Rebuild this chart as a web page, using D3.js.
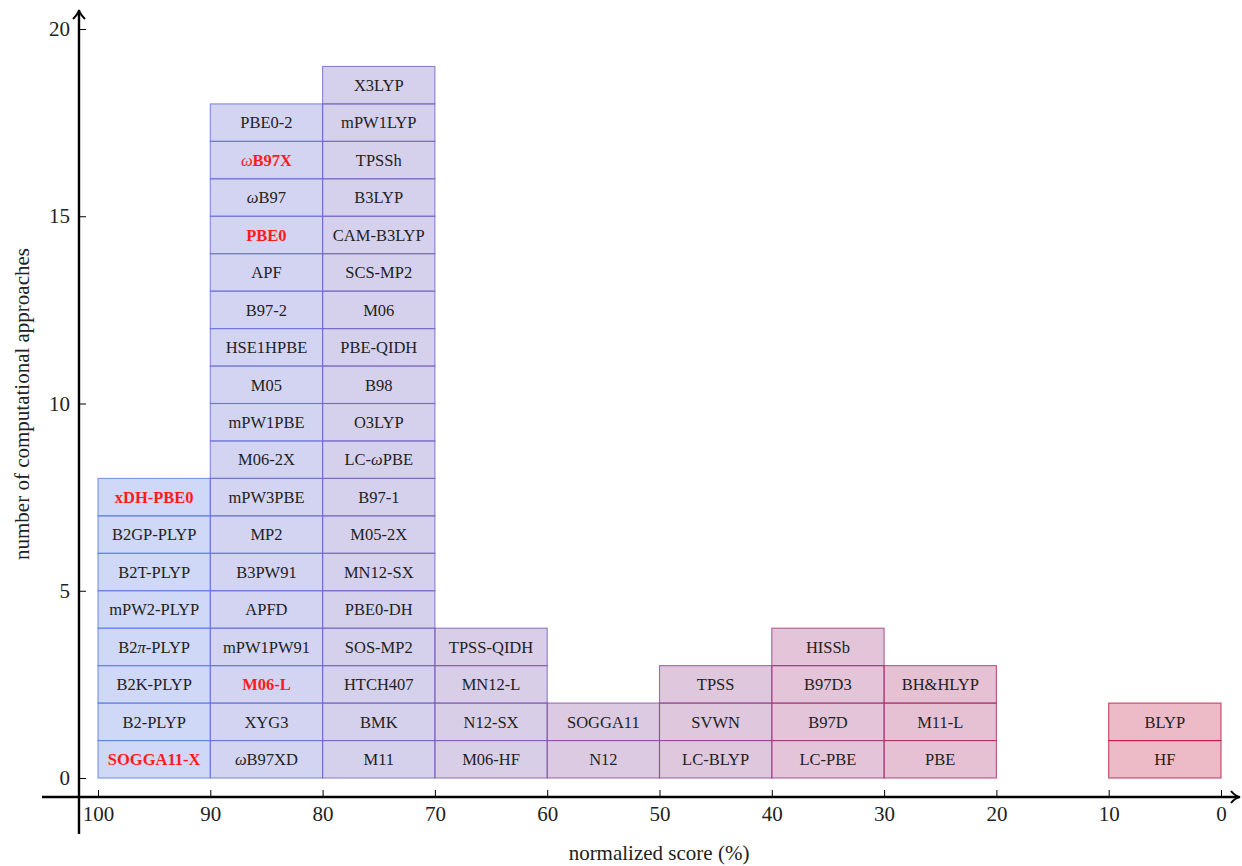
<!DOCTYPE html>
<html>
<head>
<meta charset="utf-8">
<script src="https://cdn.jsdelivr.net/npm/d3@7"></script>
<style>
  body { margin: 0; background: #fff; }
  text { font-family: "Liberation Serif", "DejaVu Serif", serif; fill: #222; }
</style>
</head>
<body>
<script>
// bins of the normalized score, listed from high to low (axis runs 100 -> 0)
var binUpper = [100, 90, 80, 70, 60, 50, 40, 30, 20, 10];

// methods in each bin, bottom of the stack first
var bin100 = ["SOGGA11-X", "B2-PLYP", "B2K-PLYP", "B2π-PLYP", "mPW2-PLYP", "B2T-PLYP", "B2GP-PLYP", "xDH-PBE0"];
var bin90 = ["ωB97XD", "XYG3", "M06-L", "mPW1PW91", "APFD", "B3PW91", "MP2", "mPW3PBE", "M06-2X",
             "mPW1PBE", "M05", "HSE1HPBE", "B97-2", "APF", "PBE0", "ωB97", "ωB97X", "PBE0-2"];
var bin80 = ["M11", "BMK", "HTCH407", "SOS-MP2", "PBE0-DH", "MN12-SX", "M05-2X", "B97-1", "LC-ωPBE",
             "O3LYP", "B98", "PBE-QIDH", "M06", "SCS-MP2", "CAM-B3LYP", "B3LYP", "TPSSh", "mPW1LYP", "X3LYP"];
var bin70 = ["M06-HF", "N12-SX", "MN12-L", "TPSS-QIDH"];
var bin60 = ["N12", "SOGGA11"];
var bin50 = ["LC-BLYP", "SVWN", "TPSS"];
var bin40 = ["LC-PBE", "B97D", "B97D3", "HISSb"];
var bin30 = ["PBE", "M11-L", "BH&HLYP"];
var bin20 = [];
var bin10 = ["HF", "BLYP"];

var highlighted = ["SOGGA11-X", "xDH-PBE0", "M06-L", "PBE0", "ωB97X"];

var xTicks = [100, 90, 80, 70, 60, 50, 40, 30, 20, 10, 0];
var yTicks = [0, 5, 10, 15, 20];

var binMethods = [bin100, bin90, bin80, bin70, bin60, bin50, bin40, bin30, bin20, bin10];

// flatten into cells
var cells = [];
binUpper.forEach(function (up, b) {
    binMethods[b].forEach(function (name, i) {
        cells.push({upper: up, lower: up - 10, index: i, name: name});
    });
});

var W = 1242, H = 866;
var svg = d3.select("body").append("svg")
        .attr("width", W)
        .attr("height", H);

var x = d3.scaleLinear().domain([100, 0]).range([98, 1221]);
var y = d3.scaleLinear().domain([0, 20]).range([778, 29]);

var color = d3.interpolateRgb("rgb(95,125,230)", "rgb(205,15,55)");
function binColor(d) {
    return color(1 - (d.upper - 5) / 90 * 0.9 - 0.05);
}

// the cells
var g = svg.append("g");
var cell = g.selectAll(".cell")
        .data(cells)
        .enter().append("g")
        .attr("class", "cell");

cell.append("rect")
        .attr("x", function (d) { return x(d.upper); })
        .attr("y", function (d) { return y(d.index + 1); })
        .attr("width", function (d) { return x(d.lower) - x(d.upper); })
        .attr("height", function (d) { return y(d.index) - y(d.index + 1); })
        .style("fill", binColor)
        .style("fill-opacity", 0.3)
        .style("stroke", binColor)
        .style("stroke-opacity", 0.8)
        .style("stroke-width", 1.1);

cell.append("text")
        .attr("x", function (d) { return (x(d.upper) + x(d.lower)) / 2; })
        .attr("y", function (d) { return (y(d.index) + y(d.index + 1)) / 2; })
        .attr("dy", "0.35em")
        .attr("text-anchor", "middle")
        .style("font-size", "16.5px")
        .each(function (d) {
            var t = d3.select(this);
            var hi = highlighted.indexOf(d.name) >= 0;
            if (hi) {
                t.style("fill", "#ff1a1a").style("font-weight", "bold");
            }
            // greek letters in italic (math mode in the original)
            d.name.split(/([ωπ])/).forEach(function (part) {
                if (part === "") return;
                var s = t.append("tspan").text(part);
                if (part === "ω" || part === "π") {
                    s.style("font-style", "italic").style("font-weight", "normal");
                }
                if (hi) s.style("fill", "#ff1a1a");
            });
        });

// axes
var axisY0 = 797, axisX0 = 79;

var xAxis = svg.append("g")
        .attr("transform", "translate(0," + axisY0 + ")")
        .call(d3.axisBottom(x).tickValues(xTicks).tickSizeInner(-7).tickSizeOuter(0).tickPadding(9));
var yAxis = svg.append("g")
        .attr("transform", "translate(" + axisX0 + ",0)")
        .call(d3.axisLeft(y).tickValues(yTicks).tickSizeInner(-7).tickSizeOuter(0).tickPadding(9));

[xAxis, yAxis].forEach(function (a) {
    a.select(".domain").remove();
    a.selectAll(".tick line").style("stroke", "#000").style("stroke-width", 1);
    a.selectAll(".tick text")
            .style("font-family", "'Liberation Serif', serif")
            .style("font-size", "21px")
            .style("fill", "#222");
});

// axis lines with arrow heads
svg.append("line")
        .attr("x1", 42).attr("y1", axisY0).attr("x2", 1238).attr("y2", axisY0)
        .style("stroke", "#000").style("stroke-width", 2.4);
svg.append("path")
        .attr("d", "M1231," + (axisY0 - 6) + " Q1235," + (axisY0 - 1) + " 1240," + axisY0 +
                " Q1235," + (axisY0 + 1) + " 1231," + (axisY0 + 6))
        .style("fill", "none").style("stroke", "#000").style("stroke-width", 2);
svg.append("line")
        .attr("x1", axisX0).attr("y1", 834).attr("x2", axisX0).attr("y2", 12)
        .style("stroke", "#000").style("stroke-width", 2.4);
svg.append("path")
        .attr("d", "M" + (axisX0 - 6) + ",19 Q" + (axisX0 - 1) + ",14 " + axisX0 + ",10 Q" +
                (axisX0 + 1) + ",14 " + (axisX0 + 6) + ",19")
        .style("fill", "none").style("stroke", "#000").style("stroke-width", 2);

// axis titles
svg.append("text")
        .attr("x", 659).attr("y", 860)
        .attr("text-anchor", "middle")
        .style("font-size", "21px")
        .text("normalized score (%)");
svg.append("text")
        .attr("transform", "translate(29,404) rotate(-90)")
        .attr("text-anchor", "middle")
        .style("font-size", "21px")
        .text("number of computational approaches");
</script>
</body>
</html>
